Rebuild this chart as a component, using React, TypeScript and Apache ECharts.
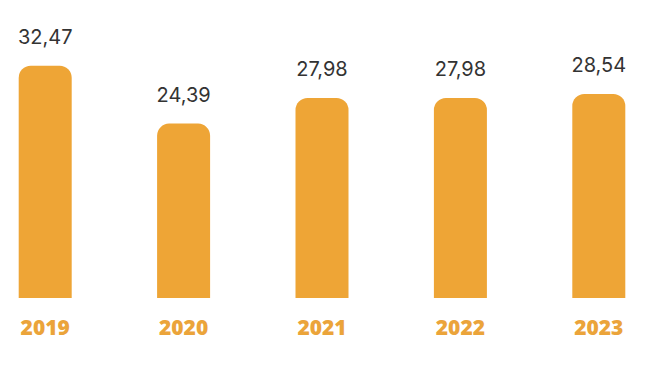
import React, { useEffect, useRef } from "react";
import * as echarts from "echarts";

const categories = ["2019", "2020", "2021", "2022", "2023"];
const values = [32.47, 24.39, 27.98, 27.98, 28.54];

export default function App() {
  const ref = useRef<HTMLDivElement>(null);
  useEffect(() => {
    if (!ref.current) return;
    const chart = echarts.init(ref.current, null, { renderer: "svg" });
    chart.setOption({
      animation: false,
      grid: { left: 0, right: 0, top: 12, bottom: 70 },
      xAxis: {
        type: "category",
        data: categories,
        axisLine: { show: false },
        axisTick: { show: false },
        axisLabel: {
          color: "#EBA43A",
          fontFamily: "Open Sans",
          fontWeight: 800,
          fontSize: 21,
          margin: 18,
        },
      },
      yAxis: {
        type: "value",
        min: 0,
        max: 40,
        show: false,
        splitLine: { show: false },
      },
      series: [
        {
          type: "bar",
          data: values,
          barWidth: 53,
          itemStyle: { color: "#EEA536", borderRadius: [12, 12, 0, 0] },
          label: {
            show: true,
            position: "top",
            distance: 19,
            color: "#333333",
            fontFamily: "Inter",
            fontSize: 20,
            formatter: (p: any) => p.value.toFixed(2).replace(".", ","),
          },
        },
      ],
    });
    return () => chart.dispose();
  }, []);
  return (
    <div style={{ position: "absolute", left: 0, top: 0, width: 654, height: 368, overflow: "hidden", background: "#fff" }}>
      <div ref={ref} style={{ width: 692, height: 368, position: "absolute", left: -24, top: 0 }} />
    </div>
  );
}
